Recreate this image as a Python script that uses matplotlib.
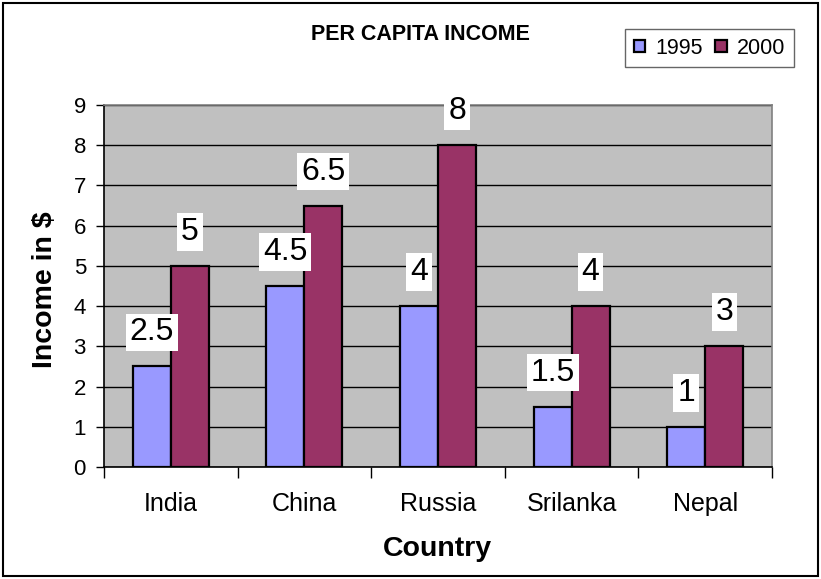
import matplotlib
matplotlib.use("Agg")
import matplotlib.pyplot as plt
from matplotlib.patches import Rectangle
import numpy as np

plt.rcParams['font.family'] = ['Liberation Sans', 'DejaVu Sans']

categories = ["India", "China", "Russia", "Srilanka", "Nepal"]
series_names = ["1995", "2000"]
income_1995 = [2.5, 4.5, 4, 1.5, 1]
income_2000 = [5, 6.5, 8, 4, 3]
label_1995 = ["2.5", "4.5", "4", "1.5", "1"]
label_2000 = ["5", "6.5", "8", "4", "3"]
yticks = list(range(0, 10))

W, H = 821, 579
fig = plt.figure(figsize=(W / 100, H / 100), dpi=100)
fig.patch.set_facecolor('white')

left, right, top, bottom = 104, 772, 105, 467
ax = fig.add_axes([left / W, 1 - bottom / H, (right - left) / W, (bottom - top) / H])
ax.set_facecolor('#C0C0C0')

x = np.arange(len(categories))
bw = 0.285
c1, c2 = '#9999FF', '#993366'
b1 = ax.bar(x - bw / 2, income_1995, bw, color=c1, edgecolor='black', linewidth=1.6, zorder=3, label=series_names[0])
b2 = ax.bar(x + bw / 2, income_2000, bw, color=c2, edgecolor='black', linewidth=1.6, zorder=3, label=series_names[1])

ax.set_xlim(-0.5, len(categories) - 0.5)
ax.set_ylim(0, 9)
ax.set_yticks(yticks)
ax.set_yticklabels([str(v) for v in yticks], fontsize=16)
ax.tick_params(axis='y', direction='out', length=6, width=1, pad=7)
ax.yaxis.grid(True, color='black', linewidth=1, zorder=1)
ax.set_axisbelow(True)

ax.set_xticks(np.arange(-0.5, len(categories), 1.0))
ax.set_xticklabels([])
ax.tick_params(axis='x', which='major', direction='out', length=8, width=1)
ax.set_xticks(x, minor=True)
ax.set_xticklabels(categories, minor=True, fontsize=18)
ax.tick_params(axis='x', which='minor', length=0, pad=18)

for s in ['top', 'right']:
    ax.spines[s].set_color('#808080')
    ax.spines[s].set_linewidth(1.2)
for s in ['left', 'bottom']:
    ax.spines[s].set_color('black')
    ax.spines[s].set_linewidth(1.2)

bbox = dict(boxstyle='square,pad=0.12', facecolor='white', edgecolor='none')
for bars, labels in ((b1, label_1995), (b2, label_2000)):
    for rect, lab in zip(bars, labels):
        ax.annotate(lab, (rect.get_x() + rect.get_width() / 2, rect.get_height()),
                    xytext=(0, 24.5), textcoords='offset points',
                    ha='center', va='center', fontsize=23, bbox=bbox, zorder=5)

fig.text(420 / W, 1 - 35 / H, "PER CAPITA INCOME", ha='center', va='center',
         fontsize=15.5, fontweight='bold')
fig.text(45 / W, 1 - 290 / H, "Income in $", rotation=90, ha='center', va='center',
         fontsize=20.5, fontweight='bold')
fig.text(437 / W, 1 - 549 / H, "Country", ha='center', va='center',
         fontsize=20.5, fontweight='bold')

leg = fig.legend(handles=[b1, b2], labels=series_names, ncol=2,
                 loc='upper right', bbox_to_anchor=(794 / W, 1 - 29 / H),
                 fontsize=15.5, frameon=True, fancybox=False, edgecolor='#404040',
                 handlelength=0.55, handleheight=0.55, handletextpad=0.45,
                 columnspacing=0.6, borderpad=0.4, borderaxespad=0)
leg.get_frame().set_linewidth(1.0)

fig.add_artist(Rectangle((3 / W, 3 / H), (W - 6) / W, (H - 6) / H, transform=fig.transFigure,
                         fill=False, edgecolor='black', linewidth=1.5))

fig.savefig('out.png', dpi=100)
